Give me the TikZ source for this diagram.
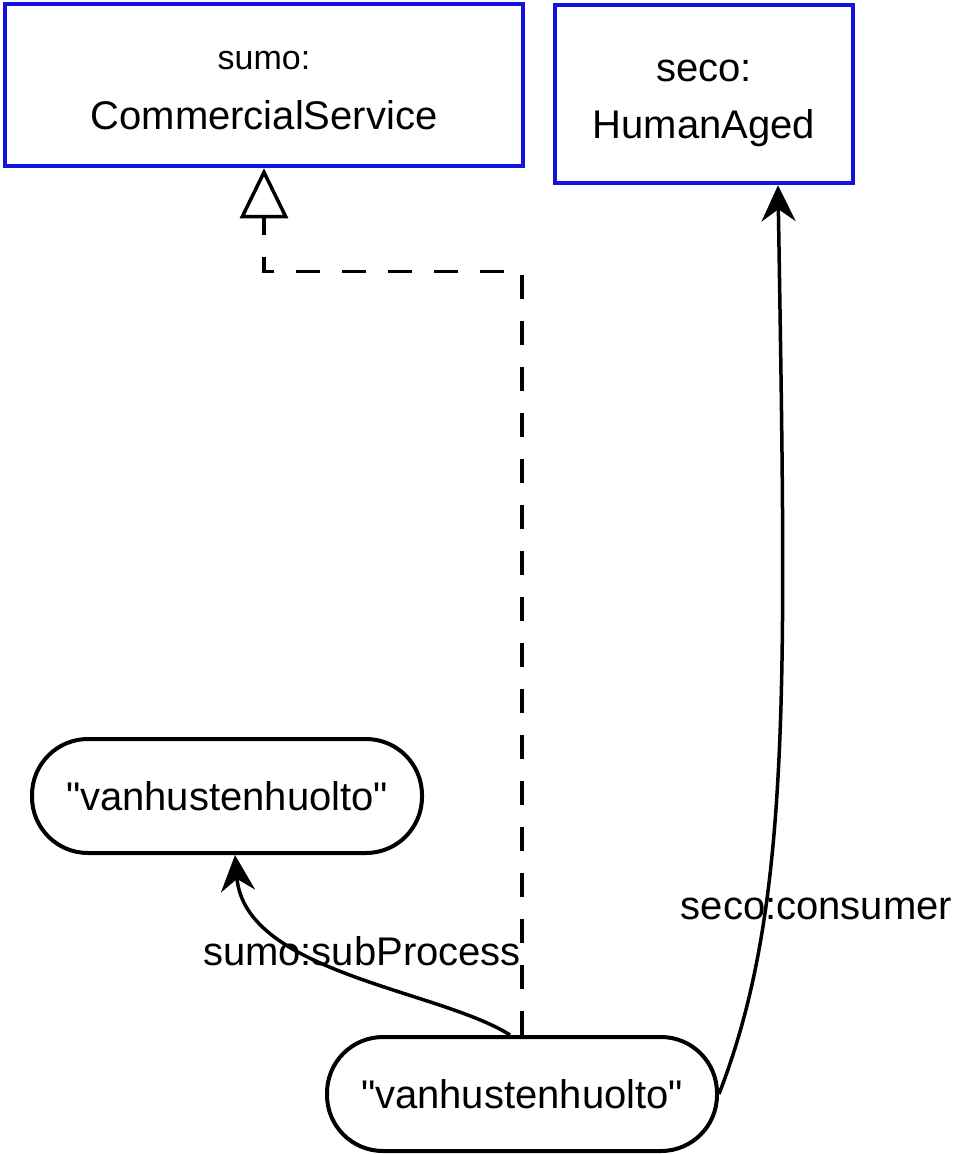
\documentclass[tikz,border=0pt]{standalone}
\usepackage{fontspec}
\setmainfont{Liberation Sans}[Ligatures=TeXOff]
\usetikzlibrary{
  arrows.meta,
  positioning
}
\definecolor{clsStroke}{HTML}{1414DC}
\definecolor{litStroke}{HTML}{000000}
\tikzset{
  cls nd/.style={
    rectangle, align=center, inner sep=0pt,
    draw=clsStroke, fill=white, line width=4.5pt,
    font=\fontsize{40}{57}\selectfont
  },
  lit nd/.style={
    rectangle, rounded corners=56pt, inner sep=0pt,
    draw=litStroke, fill=white, line width=4pt,
    minimum width=390pt, minimum height=114pt,
    font=\fontsize{40}{48}\selectfont
  },
  arr/.style={-{Stealth[length=36pt,width=34pt,inset=12pt]},
    line width=3.5pt},
  sub arr/.style={-{Triangle[open,length=50pt,width=48pt]},
    line width=3.5pt, dash pattern=on 24pt off 22pt},
  albl/.style={font=\fontsize{40}{48}\selectfont, inner sep=0pt}
}

\begin{document}
\begin{tikzpicture}[x=1pt, y=-1pt]
  \useasboundingbox (0,0) rectangle (955,1154);

  % classes
  \node[cls nd, minimum width=518pt, minimum height=162pt] (cs) at (264,85)
    {{\fontsize{34}{57}\selectfont\rule{0pt}{29pt}sumo:}\\[3pt]CommercialService};
  \node[cls nd, minimum width=298pt, minimum height=178pt] (ha) at (704,94)
    {\rule{0pt}{41pt}seco:\\HumanAged};

  % literals
  \node[lit nd] (v1) at (227,796) {"vanhustenhuolto"};
  \node[lit nd] (v2) at (522,1094) {"vanhustenhuolto"};

  \draw[sub arr] (v2.north) |- ([yshift=-103pt]cs.south) -- (cs.south);
  \draw[arr] ([xshift=-12pt]v2.north) .. controls +(-70,-45) and +(10,118) ..
    ([xshift=8pt]v1.south)
    node[albl, pos=0.5, xshift=12pt, yshift=21pt] {sumo:subProcess};
  \draw[arr] (v2.east) .. controls +(73,-188) and +(8,500) ..
    ([xshift=74pt]ha.south)
    node[albl, pos=0.3, xshift=51pt] {seco:consumer};

\end{tikzpicture}
\end{document}
